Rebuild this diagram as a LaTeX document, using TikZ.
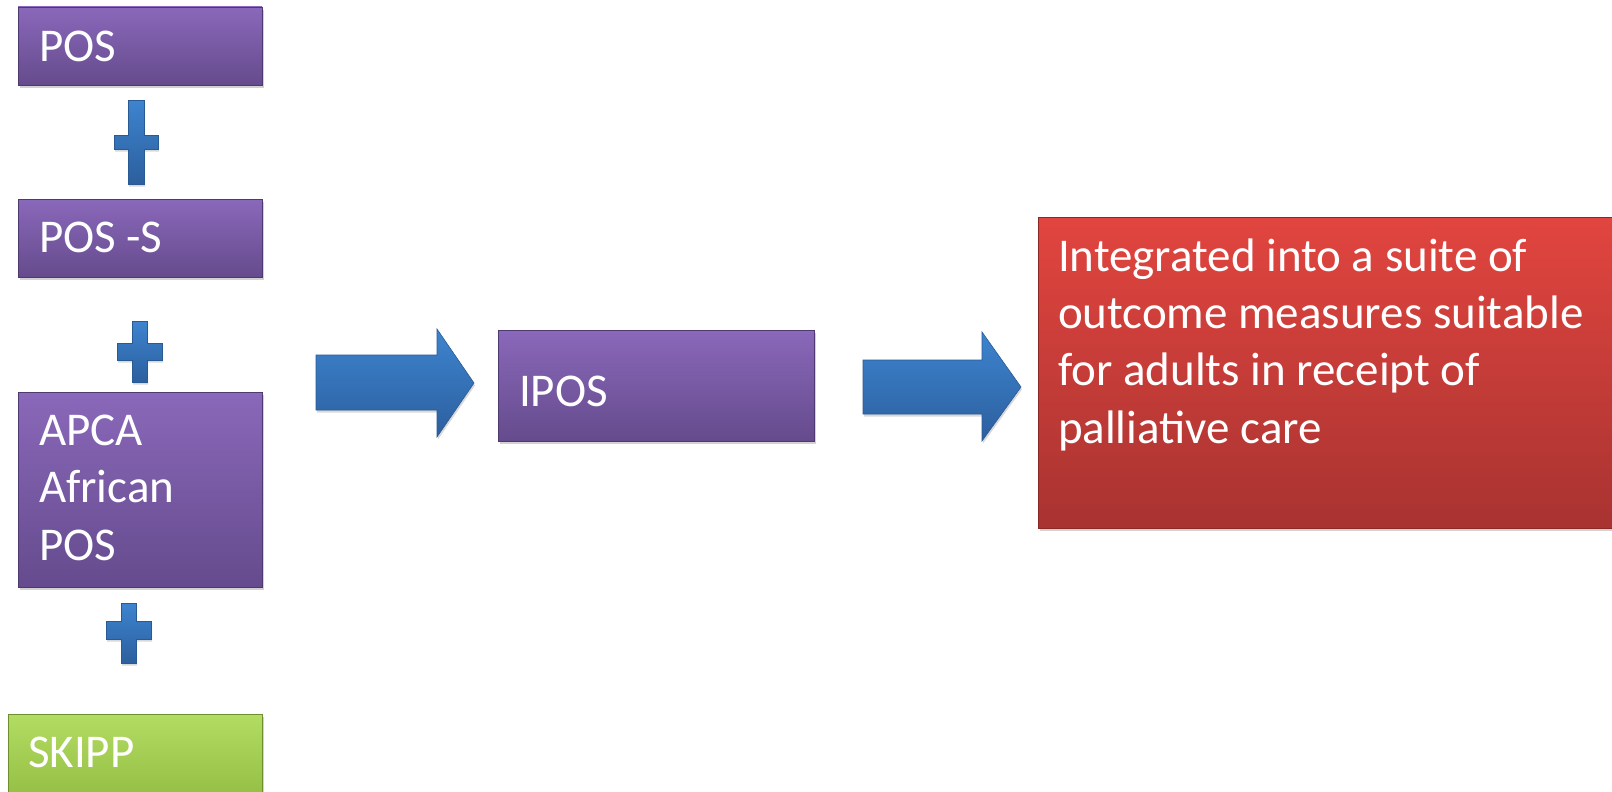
\documentclass[tikz,border=0pt]{standalone}
\usepackage{fontspec}
\setmainfont{Carlito}
\usetikzlibrary{shadows}
\definecolor{purpTop}{HTML}{8A68BA}
\definecolor{purpBot}{HTML}{654B8D}
\definecolor{purpEdge}{HTML}{4E3A70}
\definecolor{greenTop}{HTML}{B3DC62}
\definecolor{greenBot}{HTML}{8FB83E}
\definecolor{greenEdge}{HTML}{6E8F2E}
\definecolor{redTop}{HTML}{E2453F}
\definecolor{redBot}{HTML}{A83331}
\definecolor{redEdge}{HTML}{8A2826}
\definecolor{blueTop}{HTML}{3D84CF}
\definecolor{blueBot}{HTML}{2C5F9E}
\definecolor{blueEdge}{HTML}{2A5A94}
\tikzset{
  boxbase/.style={rectangle, inner sep=0pt, outer sep=0pt, anchor=north west, line width=0.8pt,
    drop shadow={opacity=0.35, shadow xshift=1.5pt, shadow yshift=-3pt}},
  purplebox/.style={boxbase, top color=purpTop, bottom color=purpBot, draw=purpEdge},
  greenbox/.style={boxbase, top color=greenTop, bottom color=greenBot, draw=greenEdge},
  redbox/.style={boxbase, top color=redTop, bottom color=redBot, draw=redEdge},
  lbl/.style={inner sep=0pt, outer sep=0pt, text=white, anchor=base west, align=left,
    font=\fontsize{47}{57.2}\selectfont},
  bluefill/.style={top color=blueTop, bottom color=blueBot, draw=blueEdge, line width=0.6pt,
    drop shadow={opacity=0.3, shadow xshift=1pt, shadow yshift=-2.5pt}}
}
\begin{document}
\begin{tikzpicture}[x=1pt,y=-1pt]
\useasboundingbox (0,0) rectangle (1612,792);
\clip (0,0) rectangle (1612,792);
\fill[white] (0,0) rectangle (1612,792);

% boxes (text nodes are placed at the baseline of their last line)
\node[purplebox, minimum width=244pt, minimum height=78pt] (pos) at (18,7) {};
\node[lbl] (posT) at (39,62) {POS};
\node[purplebox, minimum width=244pt, minimum height=78pt] (poss) at (18,199) {};
\node[lbl] (possT) at (39,252) {POS -S};
\node[purplebox, minimum width=244pt, minimum height=195pt] (apca) at (18,392) {};
\node[lbl] (apcaT) at (39,560) {APCA\\African\\POS};
\node[greenbox, minimum width=254pt, minimum height=100pt] (skipp) at (8,714) {};
\node[lbl] (skippT) at (28,767) {SKIPP};
\node[purplebox, minimum width=316pt, minimum height=111pt] (ipos) at (498,330) {};
\node[lbl] (iposT) at (519,406) {IPOS};
\node[redbox, minimum width=600pt, minimum height=311pt] (res) at (1038,217) {};
\node[lbl] (resT) at (1058,443) {Integrated into a suite of\\outcome measures suitable\\for adults in receipt of\\palliative care};

% plus signs
\path[bluefill] (128,100) -- (144,100) -- (144,135) -- (158,135) -- (158,149) -- (144,149) -- (144,184) -- (128,184) -- (128,149) -- (114,149) -- (114,135) -- (128,135) -- cycle;
\path[bluefill] (132,321) -- (147,321) -- (147,343) -- (162,343) -- (162,360) -- (147,360) -- (147,382) -- (132,382) -- (132,360) -- (117,360) -- (117,343) -- (132,343) -- cycle;
\path[bluefill] (121,603) -- (136,603) -- (136,621) -- (151,621) -- (151,639) -- (136,639) -- (136,663) -- (121,663) -- (121,639) -- (106,639) -- (106,621) -- (121,621) -- cycle;

% block arrows
\path[bluefill] (316,355) -- (437,355) -- (437,329) -- (474,383) -- (437,437) -- (437,410) -- (316,410) -- cycle;
\path[bluefill] (863,360) -- (982,360) -- (982,332) -- (1021,387) -- (982,441) -- (982,414) -- (863,414) -- cycle;
\end{tikzpicture}
\end{document}
